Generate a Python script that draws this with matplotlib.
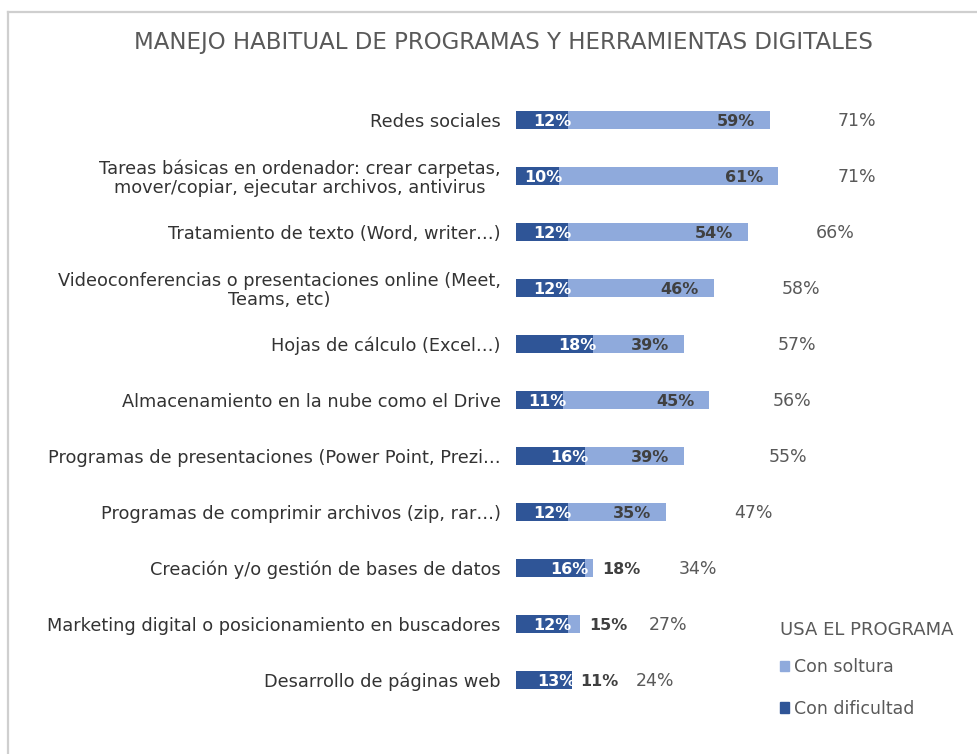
import matplotlib
matplotlib.use("Agg")
import matplotlib.pyplot as plt
from matplotlib.patches import Patch
from matplotlib.lines import Line2D

categories = [
    "Redes sociales",
    "Tareas básicas en ordenador: crear carpetas,\nmover/copiar, ejecutar archivos, antivirus",
    "Tratamiento de texto (Word, writer…)",
    "Videoconferencias o presentaciones online (Meet,\nTeams, etc)",
    "Hojas de cálculo (Excel…)",
    "Almacenamiento en la nube como el Drive",
    "Programas de presentaciones (Power Point, Prezi…",
    "Programas de comprimir archivos (zip, rar…)",
    "Creación y/o gestión de bases de datos",
    "Marketing digital o posicionamiento en buscadores",
    "Desarrollo de páginas web",
]
con_dificultad = [12, 10, 12, 12, 18, 11, 16, 12, 16, 12, 13]
con_soltura = [59, 61, 54, 46, 39, 45, 39, 35, 18, 15, 11]
total = [71, 71, 66, 58, 57, 56, 55, 47, 34, 27, 24]

DARK = "#2F5597"
LIGHT = "#8FAADC"
GRAY = "#595959"
LBL = "#404040"

W, H = 978, 754
fig = plt.figure(figsize=(W / 100, H / 100), dpi=100)
plt.rcParams['font.family'] = ['DejaVu Sans']

ax_left, ax_right = 516, 960
ax_top, ax_bot = 92, 708
ax = fig.add_axes([ax_left / W, 1 - ax_bot / H, (ax_right - ax_left) / W, (ax_bot - ax_top) / H])
xmax = (ax_right - ax_left) / 4.3
ax.set_xlim(0, xmax)
ax.set_ylim(len(categories) - 0.5, -0.5)

ys = list(range(len(categories)))
bh = 0.32
ax.barh(ys, con_soltura, height=bh, color=LIGHT, zorder=2)
ax.barh(ys, con_dificultad, height=bh, color=DARK, zorder=3)

for y, d, s, t in zip(ys, con_dificultad, con_soltura, total):
    ax.text(d + 0.8, y + 0.02, f"{d}%", ha="right", va="center", color="white",
            fontsize=11.5, fontweight="bold", zorder=5)
    if s - d >= 10:
        ax.text(s - 3.5, y + 0.02, f"{s}%", ha="right", va="center", color=LBL,
                fontsize=11.5, fontweight="bold", zorder=5)
    else:
        ax.text(max(s, d) + 2, y + 0.02, f"{s}%", ha="left", va="center", color=LBL,
                fontsize=11.5, fontweight="bold", zorder=5)
    ax.text(t + 3.8, y + 0.02, f"{t}%", ha="left", va="center", color=GRAY,
            fontsize=12.5, zorder=5)

ax.set_yticks(ys)
ax.set_yticklabels(categories, fontsize=12.8, color="#333333", linespacing=1.05)
for tl in ax.get_yticklabels():
    tl.set_multialignment("center")
ax.tick_params(axis="y", length=0, pad=11)
ax.set_xticks([])
for sp in ax.spines.values():
    sp.set_visible(False)

fig.text(503 / W, 1 - 42 / H, "MANEJO HABITUAL DE PROGRAMAS Y HERRAMIENTAS DIGITALES",
         ha="center", va="center", fontsize=16.5, color=GRAY)

# frame
fig.add_artist(Line2D([8 / W, 8 / W], [0, 1 - 12 / H], transform=fig.transFigure,
                      color="#CFCFCF", lw=1.6))
fig.add_artist(Line2D([8 / W, 1], [1 - 12 / H, 1 - 12 / H], transform=fig.transFigure,
                      color="#CFCFCF", lw=1.6))

handles = [Patch(color=LIGHT, label="Con soltura"), Patch(color=DARK, label="Con dificultad")]
leg = fig.legend(handles=handles, title="USA EL PROGRAMA", loc="upper left",
                 bbox_to_anchor=(764 / W, 1 - 605 / H), frameon=False,
                 fontsize=12.5, title_fontsize=13, handlelength=0.55, handleheight=0.55,
                 handletextpad=0.3, labelspacing=1.35, alignment="left")
for t in leg.get_texts():
    t.set_color(GRAY)
leg.get_title().set_color(GRAY)
leg._legend_box.sep = 14

fig.savefig("out.png", dpi=100)
